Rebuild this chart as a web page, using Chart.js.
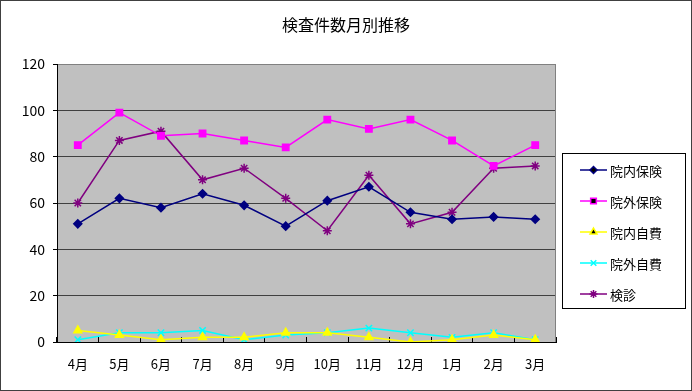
<!DOCTYPE html>
<html>
<head>
<meta charset="utf-8">
<script src="https://cdn.jsdelivr.net/npm/chart.js@4/dist/chart.umd.min.js"></script>
<style>
html,body{margin:0;padding:0;background:#fff;}
#wrap{width:692px;height:391px;position:relative;}
</style>
</head>
<body>
<div id="wrap"><canvas id="c" width="692" height="391"></canvas></div>
<script>
const months = ['4月','5月','6月','7月','8月','9月','10月','11月','12月','1月','2月','3月'];
const innaiHoken = [51, 62, 58, 64, 59, 50, 61, 67, 56, 53, 54, 53];
const gaiHoken   = [85, 99, 89, 90, 87, 84, 96, 92, 96, 87, 76, 85];
const innaiJihi  = [5, 3, 1, 2, 2, 4, 4, 2, 0, 1, 3, 1];
const gaiJihi    = [1, 4, 4, 5, 1, 3, 4, 6, 4, 2, 4, 1];
const kenshin    = [60, 87, 91, 70, 75, 62, 48, 72, 51, 56, 75, 76];
const seriesNames = ['院内保険','院外保険','院内自費','院外自費','検診'];
const yTicks = [0, 20, 40, 60, 80, 100, 120];

const FONT = "'Noto Sans CJK JP', 'Noto Sans', sans-serif";

function ds(label, data, color, style, radius) {
  return {
    label, data,
    borderColor: color, backgroundColor: color,
    borderWidth: 1.5, pointStyle: style, pointRadius: radius,
    pointBorderColor: color, pointBackgroundColor: color,
    pointBorderWidth: 1.5, tension: 0, yAxisID: 'y'
  };
}

const frame = {
  id: 'frame',
  beforeDraw(chart) {
    const {ctx, chartArea: a} = chart;
    ctx.save();
    ctx.fillStyle = '#C0C0C0';
    ctx.fillRect(a.left, a.top, a.right - a.left, a.bottom - a.top);
    ctx.restore();
  },
  beforeDatasetsDraw(chart) {
    const {ctx, chartArea: a} = chart;
    ctx.save();
    ctx.strokeStyle = '#808080';
    ctx.lineWidth = 1;
    ctx.beginPath();
    ctx.moveTo(a.right - 0.5, a.top);
    ctx.lineTo(a.right - 0.5, a.bottom);
    ctx.stroke();
    ctx.restore();
  },
  afterDraw(chart) {
    const {ctx, width, height} = chart;
    ctx.save();
    ctx.strokeStyle = '#404040';
    ctx.lineWidth = 1;
    ctx.strokeRect(0.5, 0.5, width - 1, height - 1);
    // legend
    const bx = 562.5, by = 153.5, bw = 123, bh = 155;
    ctx.strokeStyle = '#000';
    ctx.strokeRect(bx, by, bw, bh);
    ctx.font = '13px ' + FONT;
    ctx.textBaseline = 'middle';
    ctx.fillStyle = '#000';
    chart.data.datasets.forEach((d, i) => {
      const y = 170 + i * 31;
      ctx.strokeStyle = d.borderColor;
      ctx.lineWidth = 1.5;
      ctx.beginPath();
      ctx.moveTo(580, y);
      ctx.lineTo(607, y);
      ctx.stroke();
      Chart.helpers.drawPoint(ctx, {
        pointStyle: d.pointStyle, radius: d.pointRadius - 0.5, borderWidth: 1
      }, 593.5, y);
      ctx.fillStyle = '#000';
      ctx.fillText(d.label, 610, y + 1);
    });
    ctx.restore();
  }
};

new Chart(document.getElementById('c'), {
  type: 'line',
  data: {
    labels: months,
    datasets: [
      ds(seriesNames[0], innaiHoken, '#000080', 'rectRot', 4),
      ds(seriesNames[1], gaiHoken, '#FF00FF', 'rect', 4.5),
      ds(seriesNames[2], innaiJihi, '#FFFF00', 'triangle', 4.5),
      ds(seriesNames[3], gaiJihi, '#00FFFF', 'crossRot', 4.5),
      ds(seriesNames[4], kenshin, '#800080', 'star', 4.5)
    ]
  },
  options: {
    responsive: false,
    animation: false,
    devicePixelRatio: 1,
    layout: { padding: 0 },
    plugins: {
      legend: { display: false },
      tooltip: { enabled: false },
      title: {
        display: true,
        text: '検査件数月別推移',
        color: '#000',
        font: { family: FONT, size: 16, weight: 'normal', lineHeight: 1.2 },
        padding: { top: 15, bottom: 29.8 }
      }
    },
    scales: {
      x: {
        offset: true,
        grid: {
          offset: true, drawOnChartArea: false, drawTicks: true,
          tickLength: -5, color: '#000', lineWidth: 1
        },
        border: { display: true, color: '#000', width: 1 },
        ticks: { color: '#000', font: { family: FONT, size: 13 }, padding: 19, maxRotation: 0, autoSkip: false },
        afterFit(s) { s.height = 49; }
      },
      y: {
        min: 0, max: 120,
        afterBuildTicks(s) { s.ticks = yTicks.map(v => ({ value: v })); },
        grid: {
          color: ctx => (ctx.tick && ctx.tick.value === 120) ? '#808080' : '#404040',
          lineWidth: 1, drawTicks: true, tickLength: 4,
          tickColor: '#000'
        },
        border: { display: true, color: '#000', width: 1 },
        ticks: { color: '#000', font: { family: FONT, size: 14 }, padding: 8 },
        afterFit(s) { s.width = 57; }
      },
      legendSpace: {
        type: 'linear', position: 'right', display: true,
        grid: { display: false, drawTicks: false },
        border: { display: false },
        ticks: { display: false },
        afterFit(s) { s.width = 136; }
      }
    }
  },
  plugins: [frame]
});
</script>
</body>
</html>
